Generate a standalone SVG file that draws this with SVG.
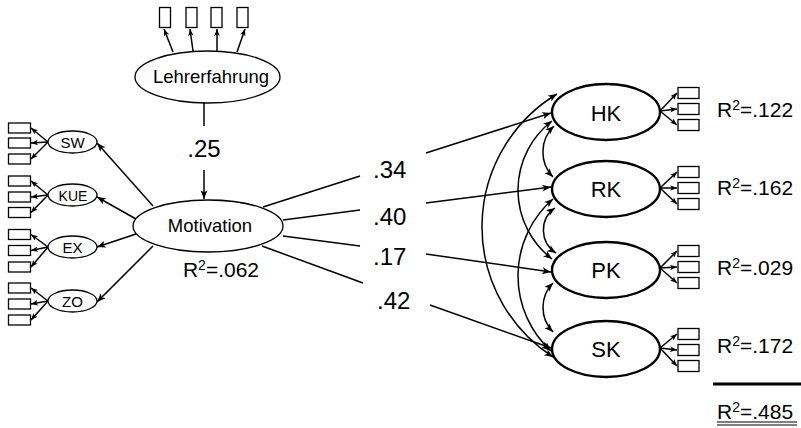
<svg xmlns="http://www.w3.org/2000/svg" width="801" height="428" viewBox="0 0 801 428">
<defs>
<marker id="ah" viewBox="0 0 10 8" markerWidth="10" markerHeight="7" refX="10" refY="4" orient="auto-start-reverse" markerUnits="userSpaceOnUse"><path d="M0,0 L10,4 L0,8 L2.5,4 z" fill="#000"/></marker>
<marker id="as" viewBox="0 0 10 8" markerWidth="7" markerHeight="5.5" refX="10" refY="4" orient="auto-start-reverse" markerUnits="userSpaceOnUse"><path d="M0,0 L10,4 L0,8 L2.5,4 z" fill="#000"/></marker>
<style>
text{font-family:"Liberation Sans",Arial,sans-serif;fill:#000}
.lat{fill:#fff;stroke:#000;stroke-width:1.3}
.big{fill:#fff;stroke:#000;stroke-width:2.4}
.ind{fill:#fff;stroke:#000;stroke-width:1.3}
.c line,.c path{stroke:#000;stroke-width:1.5;fill:none}
.a{marker-end:url(#ah)}
.s{marker-end:url(#as)}
.d{marker-start:url(#ah);marker-end:url(#ah)}
.lbl{font-size:24px}
.r2{font-size:21px}
.sm{font-size:15px}
</style>
</defs>

<g id="connectors" class="c">
<line x1="173" y1="52" x2="164" y2="29" class="s"/>
<line x1="193" y1="51" x2="190" y2="29" class="s"/>
<line x1="217" y1="51" x2="217" y2="29" class="s"/>
<line x1="237" y1="52" x2="245" y2="29" class="s"/>
<line x1="204" y1="103" x2="204" y2="126"/>
<line x1="204" y1="170" x2="204" y2="199" class="a"/>
<line x1="153" y1="206" x2="97" y2="143" class="a"/>
<line x1="136" y1="219" x2="97" y2="197" class="a"/>
<line x1="136" y1="234" x2="97" y2="247" class="a"/>
<line x1="153" y1="246" x2="97" y2="302" class="a"/>
<line x1="48" y1="142" x2="31" y2="128" class="s"/>
<line x1="48" y1="142" x2="31" y2="143" class="s"/>
<line x1="48" y1="142" x2="31" y2="159" class="s"/>
<line x1="48" y1="195" x2="31" y2="181" class="s"/>
<line x1="48" y1="195" x2="31" y2="197" class="s"/>
<line x1="48" y1="195" x2="31" y2="212.5" class="s"/>
<line x1="48" y1="247" x2="31" y2="234.5" class="s"/>
<line x1="48" y1="247" x2="31" y2="250.5" class="s"/>
<line x1="48" y1="247" x2="31" y2="267" class="s"/>
<line x1="48" y1="301" x2="31" y2="288" class="s"/>
<line x1="48" y1="301" x2="31" y2="304" class="s"/>
<line x1="48" y1="301" x2="31" y2="320" class="s"/>
<line x1="263" y1="207" x2="360" y2="176"/>
<line x1="426" y1="153" x2="551" y2="113" class="a"/>
<line x1="283" y1="220" x2="360" y2="210"/>
<line x1="426" y1="203" x2="551" y2="187" class="a"/>
<line x1="283" y1="236" x2="360" y2="246"/>
<line x1="426" y1="254" x2="551" y2="272" class="a"/>
<line x1="262" y1="246" x2="363" y2="283"/>
<line x1="430" y1="305" x2="551" y2="348" class="a"/>
<path d="M557,94 A155,155 0 0,0 553,357" class="d"/>
<path d="M552,121 A87,87 0 0,0 552,259" class="d"/>
<path d="M553,199 A102,102 0 0,0 551,351" class="d"/>
<path d="M554,126 A36,36 0 0,0 553,177" class="d"/>
<path d="M555,208 A27,27 0 0,0 556,253" class="d"/>
<path d="M553,283 A35,35 0 0,0 553,332" class="d"/>
<line x1="660" y1="111" x2="677" y2="93" class="s"/>
<line x1="660" y1="111" x2="677" y2="109" class="s"/>
<line x1="660" y1="111" x2="677" y2="125" class="s"/>
<line x1="660" y1="188" x2="677" y2="172" class="s"/>
<line x1="660" y1="188" x2="677" y2="188" class="s"/>
<line x1="660" y1="188" x2="677" y2="204" class="s"/>
<line x1="660" y1="268" x2="677" y2="251" class="s"/>
<line x1="660" y1="268" x2="677" y2="267" class="s"/>
<line x1="660" y1="268" x2="677" y2="283" class="s"/>
<line x1="660" y1="348" x2="677" y2="334" class="s"/>
<line x1="660" y1="348" x2="677" y2="350" class="s"/>
<line x1="660" y1="348" x2="677" y2="366" class="s"/>
</g>

<g id="lehrerfahrung-indicators">
<rect class="ind" x="159.5" y="7.5" width="11" height="20"/>
<rect class="ind" x="186" y="7.5" width="11" height="20"/>
<rect class="ind" x="211" y="7.5" width="11" height="20"/>
<rect class="ind" x="237" y="7.5" width="11" height="20"/>
</g>
<g id="Lehrerfahrung">
<ellipse class="lat" cx="207.5" cy="77" rx="72.5" ry="26"/>
<text x="211" y="83" font-size="18.5" text-anchor="middle">Lehrerfahrung</text>
</g>
<g id="path-LM">
<text x="204" y="157" class="lbl" text-anchor="middle">.25</text>
</g>
<g id="Motivation">
<ellipse class="lat" cx="208" cy="226" rx="75" ry="26"/>
<text x="210" y="232" font-size="18.5" text-anchor="middle">Motivation</text>
<text x="221" y="277" class="r2" text-anchor="middle">R<tspan dy="-7" font-size="14">2</tspan><tspan dy="7">=.062</tspan></text>
</g>

<g id="SW">
<ellipse class="lat" cx="72.5" cy="142" rx="24.5" ry="11"/>
<text x="72.5" y="147.5" class="sm" text-anchor="middle">SW</text>
<rect class="ind" x="8.5" y="123" width="22" height="10"/>
<rect class="ind" x="8.5" y="138" width="22" height="10"/>
<rect class="ind" x="8.5" y="154" width="22" height="10"/>
</g>
<g id="KUE">
<ellipse class="lat" cx="72.5" cy="195" rx="24.5" ry="11"/>
<text x="73" y="200.5" font-size="14" text-anchor="middle">KUE</text>
<rect class="ind" x="8.5" y="176" width="22" height="10"/>
<rect class="ind" x="8.5" y="192" width="22" height="10"/>
<rect class="ind" x="8.5" y="207.5" width="22" height="10"/>
</g>
<g id="EX">
<ellipse class="lat" cx="72.5" cy="247" rx="24.5" ry="11"/>
<text x="72.5" y="252.5" class="sm" text-anchor="middle">EX</text>
<rect class="ind" x="8.5" y="229.5" width="22" height="10"/>
<rect class="ind" x="8.5" y="245.5" width="22" height="10"/>
<rect class="ind" x="8.5" y="262" width="22" height="10"/>
</g>
<g id="ZO">
<ellipse class="lat" cx="72.5" cy="301" rx="24.5" ry="11"/>
<text x="72.5" y="306.5" class="sm" text-anchor="middle">ZO</text>
<rect class="ind" x="8.5" y="283" width="22" height="10"/>
<rect class="ind" x="8.5" y="299" width="22" height="10"/>
<rect class="ind" x="8.5" y="315" width="22" height="10"/>
</g>

<g id="path-labels">
<text x="373" y="178" class="lbl">.34</text>
<text x="373" y="225" class="lbl">.40</text>
<text x="373" y="265" class="lbl">.17</text>
<text x="377" y="309" class="lbl">.42</text>
</g>

<g id="HK">
<ellipse class="big" cx="606" cy="112" rx="54" ry="28"/>
<text x="606" y="121" font-size="22" text-anchor="middle">HK</text>
<rect class="ind" x="678" y="87.5" width="21" height="11"/>
<rect class="ind" x="678" y="103.5" width="21" height="11"/>
<rect class="ind" x="678" y="119.5" width="21" height="11"/>
<text x="717" y="117" class="r2">R<tspan dy="-7" font-size="14">2</tspan><tspan dy="7">=.122</tspan></text>
</g>
<g id="RK">
<ellipse class="big" cx="606" cy="189" rx="54" ry="28"/>
<text x="606" y="197" font-size="22" text-anchor="middle">RK</text>
<rect class="ind" x="678" y="166.5" width="21" height="11"/>
<rect class="ind" x="678" y="182.5" width="21" height="11"/>
<rect class="ind" x="678" y="198.5" width="21" height="11"/>
<text x="717" y="195" class="r2">R<tspan dy="-7" font-size="14">2</tspan><tspan dy="7">=.162</tspan></text>
</g>
<g id="PK">
<ellipse class="big" cx="606" cy="270" rx="54" ry="28"/>
<text x="606" y="278" font-size="22" text-anchor="middle">PK</text>
<rect class="ind" x="678" y="245.5" width="21" height="11"/>
<rect class="ind" x="678" y="261.5" width="21" height="11"/>
<rect class="ind" x="678" y="277.5" width="21" height="11"/>
<text x="717" y="275" class="r2">R<tspan dy="-7" font-size="14">2</tspan><tspan dy="7">=.029</tspan></text>
</g>
<g id="SK">
<ellipse class="big" cx="606" cy="349" rx="54" ry="28"/>
<text x="606" y="357" font-size="22" text-anchor="middle">SK</text>
<rect class="ind" x="678" y="328.5" width="21" height="11"/>
<rect class="ind" x="678" y="344.5" width="21" height="11"/>
<rect class="ind" x="678" y="360.5" width="21" height="11"/>
<text x="717" y="353" class="r2">R<tspan dy="-7" font-size="14">2</tspan><tspan dy="7">=.172</tspan></text>
</g>

<g id="total">
<line x1="713" y1="384" x2="801" y2="384" stroke="#000" stroke-width="3"/>
<text x="717" y="419" class="r2">R<tspan dy="-7" font-size="14">2</tspan><tspan dy="7">=.485</tspan></text>
<line x1="717" y1="422" x2="797" y2="422" stroke="#000" stroke-width="1"/>
<line x1="717" y1="425" x2="797" y2="425" stroke="#000" stroke-width="1"/>
</g>
</svg>
